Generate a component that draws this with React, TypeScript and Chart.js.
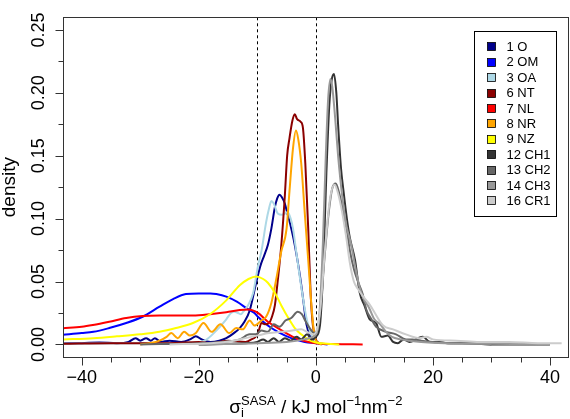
import React, { useEffect, useRef } from 'react';
import { Chart, registerables } from 'chart.js';

Chart.register(...registerables);

const FONT = '"Liberation Sans", Arial, Helvetica, sans-serif';

// ---- axes ----
const xMin = -43.2;
const xMax = 43.2;
const yMin = -0.01;
const yMax = 0.26;
const xTickValues = [-40, -35, -30, -25, -20, -15, -10, -5, 0, 5, 10, 15, 20, 25, 30, 35, 40];
const xMajorTicks = [-40, -20, 0, 20, 40];
const yTickValues = [0, 0.025, 0.05, 0.075, 0.1, 0.125, 0.15, 0.175, 0.2, 0.225, 0.25];
const yMajorTicks = [0, 0.05, 0.1, 0.15, 0.2, 0.25];
const refLines = [-10, 0];
const yTitle = 'density';

// ---- series (x, density) ----
const s1O: [number, number][] = [
  [-43.2, 0.0008], [-40, 0.001], [-37, 0.0015], [-34, 0.001], [-32, 0.002], [-30.8, 0.005], [-30, 0.003],
  [-29, 0.005], [-28.2, 0.003], [-27.5, 0.005], [-26.5, 0.002], [-25, 0.003], [-23, 0.002], [-21.5, 0.004],
  [-20.5, 0.0065], [-19.5, 0.004], [-18, 0.002], [-16.5, 0.003], [-15.3, 0.005], [-14, 0.009], [-13, 0.013],
  [-12.2, 0.018], [-11.3, 0.027], [-10.2, 0.049], [-9.5, 0.062], [-8.8, 0.071], [-8.2, 0.079], [-7.6, 0.092],
  [-7, 0.109], [-6.6, 0.116], [-6.2, 0.119], [-5.8, 0.117], [-5.3, 0.112], [-4.8, 0.103], [-4.4, 0.096],
  [-3.6, 0.079], [-2.7, 0.054], [-2.2, 0.037], [-1.6, 0.016], [-1, 0.007], [-0.5, 0.004], [0, 0.002],
  [0.5, 0.001], [1, 0],
];
const s2OM: [number, number][] = [
  [-43.2, 0.0077], [-40, 0.009], [-38, 0.010], [-35.3, 0.013], [-32.4, 0.017], [-29.6, 0.022], [-26.7, 0.030],
  [-24.4, 0.036], [-22.2, 0.040], [-20, 0.0405], [-18, 0.0405], [-17, 0.040], [-15.3, 0.038], [-13.5, 0.034],
  [-11.6, 0.028], [-10.5, 0.025], [-9.9, 0.022], [-8.2, 0.015], [-6.5, 0.010], [-4.2, 0.005], [-1.9, 0.002],
  [0, 0.001], [2, 0],
];
const s3OA: [number, number][] = [
  [-43.2, 0.0005], [-30, 0.001], [-22, 0.001], [-19, 0.003], [-17, 0.011], [-15.3, 0.020], [-14.5, 0.025],
  [-13.9, 0.026], [-13.3, 0.025], [-12.8, 0.024], [-12.4, 0.026], [-11.6, 0.031], [-10.7, 0.041], [-9.9, 0.062],
  [-9.3, 0.074], [-8.5, 0.097], [-8, 0.108], [-7.6, 0.114], [-7.2, 0.112], [-6.5, 0.104], [-5.8, 0.103],
  [-4.8, 0.105], [-4.3, 0.1], [-3.9, 0.092], [-3.3, 0.072], [-2.5, 0.046], [-1.6, 0.021], [-0.5, 0.005],
  [0.5, 0.001], [1, 0],
];
const s6NT: [number, number][] = [
  [-43.2, 0.0005], [-35, 0.001], [-25, 0.001], [-20, 0.002], [-18, 0.001], [-15, 0.003], [-12, 0.002],
  [-11, 0.004], [-10.3, 0.006], [-9.8, 0.010], [-9.3, 0.017], [-8.7, 0.016], [-8, 0.017], [-7.5, 0.022],
  [-7, 0.031], [-6.5, 0.051], [-5.9, 0.079], [-5.3, 0.118], [-4.9, 0.150], [-4.5, 0.164], [-4, 0.178],
  [-3.6, 0.183], [-3.2, 0.179], [-2.6, 0.177], [-2.2, 0.172], [-1.8, 0.144], [-1.3, 0.092], [-0.9, 0.041],
  [-0.5, 0.015], [0, 0.004], [0.5, 0.001], [1, 0],
];
const s7NL: [number, number][] = [
  [-43.2, 0.0128], [-40, 0.014], [-38.1, 0.0154], [-35.3, 0.018], [-32.4, 0.021], [-29.6, 0.0226],
  [-26.7, 0.023], [-21, 0.023], [-18.1, 0.024], [-15.3, 0.0256], [-13, 0.0274], [-11.5, 0.0277],
  [-9.9, 0.025], [-8.2, 0.018], [-6.5, 0.013], [-4.7, 0.008], [-3, 0.004], [-1.3, 0.002], [0, 0.001],
  [3, 0.0003], [8, 0],
];
const s8NR: [number, number][] = [
  [-30, 0], [-28.4, 0.001], [-26.7, 0.003], [-25.5, 0.006], [-24.7, 0.009], [-23.6, 0.005], [-22.5, 0.010],
  [-21.5, 0.007], [-20.5, 0.009], [-19.2, 0.017], [-17.8, 0.010], [-16.3, 0.016], [-14.8, 0.009],
  [-13.6, 0.013], [-12.5, 0.012], [-11.3, 0.019], [-10.5, 0.015], [-9.3, 0.019], [-8.5, 0.022], [-7.6, 0.033],
  [-6.8, 0.051], [-5.9, 0.074], [-5, 0.092], [-4.5, 0.122], [-3.9, 0.156], [-3.4, 0.170], [-3, 0.163],
  [-2.5, 0.144], [-1.9, 0.105], [-1.3, 0.067], [-0.7, 0.028], [-0.2, 0.006], [0.5, 0.001], [1, 0],
];
const s9NZ: [number, number][] = [
  [-43.2, 0.004], [-38, 0.005], [-34, 0.0064], [-30, 0.008], [-26.7, 0.010], [-23.9, 0.013], [-21, 0.017],
  [-18.1, 0.024], [-15.3, 0.035], [-13, 0.047], [-11.5, 0.052], [-10.2, 0.054], [-9, 0.052], [-8.2, 0.049],
  [-7, 0.041], [-5.9, 0.031], [-4.7, 0.021], [-3.6, 0.013], [-2.5, 0.008], [-1.3, 0.004], [0, 0.0015],
  [2, 0.0005], [4, 0],
];
const s12CH1: [number, number][] = [
  [-20, 0], [-12, 0.001], [-10, 0.002], [-9, 0.004], [-8.2, 0.002], [-7.2, 0.005], [-6.3, 0.002], [-5.3, 0.005],
  [-4.3, 0.003], [-3.3, 0.006], [-2.5, 0.004], [-1.5, 0.008], [-0.7, 0.004], [0, 0.006], [0.7, 0.015],
  [1.25, 0.059], [1.8, 0.136], [2.3, 0.19], [2.7, 0.21], [3.1, 0.215], [3.5, 0.2], [3.8, 0.175], [4.3, 0.14],
  [4.7, 0.123], [5.3, 0.1], [5.8, 0.085], [6.7, 0.067], [7.5, 0.041], [8.3, 0.031], [9.2, 0.020],
  [10.3, 0.017], [11.2, 0.006], [12.3, 0.007], [13.2, 0.002], [14, 0.001], [15, 0.004], [16, 0.002],
  [17.5, 0.005], [18.3, 0.006], [19.5, 0.002], [21, 0.002], [22.5, 0.001], [25, 0.001], [30, 0], [40, 0],
];
const s13CH2: [number, number][] = [
  [-30, 0], [-20, 0.001], [-16, 0.002], [-13, 0.004], [-11.3, 0.008], [-10.3, 0.008], [-9.3, 0.011],
  [-8.2, 0.010], [-7.2, 0.016], [-6.2, 0.014], [-5.2, 0.019], [-4.2, 0.021], [-3.1, 0.026], [-2.4, 0.024],
  [-1.7, 0.018], [-0.9, 0.012], [-0.3, 0.009], [0.3, 0.012], [0.8, 0.028], [1.5, 0.07], [2.2, 0.105],
  [2.8, 0.124], [3.4, 0.128], [4, 0.12], [4.7, 0.105], [5.3, 0.09], [5.8, 0.075], [6.5, 0.06], [7.2, 0.05],
  [8, 0.04], [8.6, 0.028], [9.5, 0.02], [10.3, 0.014], [12, 0.010], [13.7, 0.008], [15.4, 0.004],
  [16.5, 0.004], [18, 0.003], [20, 0.002], [23, 0.001], [26, 0.001], [30, 0],
];
const s14CH3: [number, number][] = [
  [-20, 0], [-10, 0.001], [-5, 0.002], [-2, 0.004], [-0.5, 0.006], [0.2, 0.01], [0.7, 0.03], [1.2, 0.08],
  [1.7, 0.15], [2.1, 0.195], [2.5, 0.211], [2.8, 0.205], [3.3, 0.18], [3.8, 0.15], [4.5, 0.118], [5.2, 0.095],
  [6, 0.08], [6.8, 0.06], [7.5, 0.045], [8.3, 0.035], [9, 0.03], [10, 0.02], [11, 0.016], [12, 0.01],
  [13, 0.006], [14.5, 0.004], [16, 0.003], [18, 0.002], [22, 0.001], [30, 0.0005], [40, 0],
];
const s16CR1: [number, number][] = [
  [-25, 0], [-18, 0.001], [-14, 0.003], [-12, 0.005], [-10, 0.007], [-8, 0.009], [-6, 0.010], [-4, 0.011],
  [-2.5, 0.012], [-1.5, 0.01], [-0.5, 0.008], [0.2, 0.012], [0.8, 0.03], [1.5, 0.072], [2.4, 0.115],
  [3.2, 0.127], [3.8, 0.12], [4.5, 0.105], [5.2, 0.085], [5.8, 0.065], [6.5, 0.05], [7.2, 0.044],
  [8.1, 0.038], [9, 0.033], [9.7, 0.028], [11.5, 0.015], [13.2, 0.012], [15.4, 0.008], [17.7, 0.005],
  [18.9, 0.006], [20, 0.004], [24, 0.003], [28, 0.002], [33, 0.002], [38, 0.001], [42, 0.001],
];

const seriesNames = ['1 O', '2 OM', '3 OA', '6 NT', '7 NL', '8 NR', '9 NZ', '12 CH1', '13 CH2', '14 CH3', '16 CR1'];
const seriesColors = ['#00008B', '#0000FF', '#ADD8E6', '#8B0000', '#FF0000', '#FFA500', '#FFFF00', '#333333', '#666666', '#999999', '#CCCCCC'];
const seriesData = [s1O, s2OM, s3OA, s6NT, s7NL, s8NR, s9NZ, s12CH1, s13CH2, s14CH3, s16CR1];

const minus = (v: number) => (v < 0 ? '\u2212' + Math.abs(v) : String(v));

const decorPlugin = {
  id: 'decor',
  beforeDatasetsDraw(chart: any) {
    const { ctx, chartArea: a, scales } = chart;
    ctx.save();
    ctx.setLineDash([3, 3]);
    ctx.strokeStyle = '#000';
    ctx.lineWidth = 1;
    for (const v of refLines) {
      const px = Math.round(scales.x.getPixelForValue(v)) + 0.5;
      ctx.beginPath();
      ctx.moveTo(px, a.top);
      ctx.lineTo(px, a.bottom);
      ctx.stroke();
    }
    ctx.restore();
  },
  afterDraw(chart: any) {
    const { ctx, chartArea: a, scales } = chart;
    ctx.save();
    // frame
    ctx.strokeStyle = '#333';
    ctx.lineWidth = 1;
    const L = Math.round(a.left) + 0.5, R = Math.round(a.right) - 0.5;
    const T = Math.round(a.top) + 0.5, B = Math.round(a.bottom) + 0.5;
    ctx.strokeRect(L, T, R - L, B - T);
    // tick marks
    ctx.beginPath();
    for (const t of scales.x.ticks) {
      const px = Math.round(scales.x.getPixelForValue(t.value)) + 0.5;
      const len = xMajorTicks.includes(t.value) ? 8 : 5;
      ctx.moveTo(px, B);
      ctx.lineTo(px, B + len);
    }
    for (const t of scales.y.ticks) {
      const py = Math.round(scales.y.getPixelForValue(t.value)) + 0.5;
      const major = yMajorTicks.some((m) => Math.abs(m - t.value) < 1e-9);
      const len = major ? 8 : 5;
      ctx.moveTo(L, py);
      ctx.lineTo(L - len, py);
    }
    ctx.stroke();

    // legend
    const lw = 82, lh = 185;
    const lx = Math.round(a.right - 13 - lw) + 0.5;
    const ly = Math.round(a.top + 13.5) + 0.5;
    ctx.fillStyle = '#fff';
    ctx.fillRect(lx, ly, lw, lh);
    ctx.strokeStyle = '#000';
    ctx.strokeRect(lx, ly, lw, lh);
    ctx.font = `13px ${FONT}`;
    ctx.textBaseline = 'middle';
    ctx.textAlign = 'left';
    chart.data.datasets.forEach((ds: any, i: number) => {
      const cy = ly + 15.4 * (i + 1);
      const sx = Math.round(lx + 12) + 0.5;
      const sy = Math.round(cy - 4.5) + 0.5;
      ctx.fillStyle = ds.borderColor;
      ctx.fillRect(sx, sy, 8, 8);
      ctx.strokeStyle = '#000';
      ctx.lineWidth = 0.8;
      ctx.strokeRect(sx, sy, 8, 8);
      ctx.fillStyle = '#000';
      ctx.fillText(ds.label, lx + 32, cy + 0.5);
    });

    // x axis title with sub/superscripts
    const big = `19px ${FONT}`;
    const small = `13px ${FONT}`;
    const base = 413;
    type Piece = { t: string; f: string; dy: number };
    const parts: Piece[][] = [
      [{ t: '\u03C3', f: big, dy: 0 }],
      [{ t: 'i', f: small, dy: 4 }, { t: 'SASA', f: small, dy: -8 }],
      [{ t: ' / kJ mol', f: big, dy: 0 }],
      [{ t: '\u22121', f: small, dy: -8 }],
      [{ t: 'nm', f: big, dy: 0 }],
      [{ t: '\u22122', f: small, dy: -8 }],
    ];
    const widths = parts.map((grp) =>
      Math.max(...grp.map((p) => {
        ctx.font = p.f;
        return ctx.measureText(p.t).width;
      }))
    );
    const total = widths.reduce((s, w) => s + w, 0);
    let cx = (a.left + a.right) / 2 - total / 2;
    ctx.fillStyle = '#000';
    ctx.textBaseline = 'alphabetic';
    parts.forEach((grp, gi) => {
      grp.forEach((p) => {
        ctx.font = p.f;
        ctx.fillText(p.t, cx, base + p.dy);
      });
      cx += widths[gi];
    });
    ctx.restore();
  },
};

export default function App() {
  const ref = useRef<HTMLCanvasElement | null>(null);
  useEffect(() => {
    if (!ref.current) return;
    const datasets = seriesData.map((s, i) => ({
      label: seriesNames[i],
      data: s.map(([x, y]) => ({ x, y })),
      borderColor: seriesColors[i],
      backgroundColor: seriesColors[i],
      borderWidth: 2,
      pointRadius: 0,
      fill: false,
      cubicInterpolationMode: 'monotone' as const,
      order: seriesData.length - i,
    }));
    const chart = new Chart(ref.current, {
      type: 'line',
      data: { datasets },
      options: {
        animation: false,
        responsive: true,
        maintainAspectRatio: false,
        devicePixelRatio: 1,
        layout: { padding: { top: 5, right: 1, left: 0, bottom: 0 } },
        plugins: { legend: { display: false }, tooltip: { enabled: false } },
        scales: {
          x: {
            type: 'linear',
            min: xMin,
            max: xMax,
            grid: { display: false, drawTicks: false },
            border: { display: false },
            afterBuildTicks: (scale: any) => {
              scale.ticks = xTickValues.map((v) => ({ value: v }));
            },
            afterFit: (scale: any) => {
              scale.height = 62;
            },
            ticks: {
              autoSkip: false,
              maxRotation: 0,
              padding: 10,
              color: '#000',
              font: { family: FONT, size: 18 },
              callback: (v: any) => (xMajorTicks.includes(Number(v)) ? minus(Number(v)) : ''),
            },
          },
          y: {
            type: 'linear',
            min: yMin,
            max: yMax,
            grid: { display: false, drawTicks: false },
            border: { display: false },
            afterBuildTicks: (scale: any) => {
              scale.ticks = yTickValues.map((v) => ({ value: v }));
            },
            afterFit: (scale: any) => {
              scale.width = 63;
            },
            title: {
              display: true,
              text: yTitle,
              color: '#000',
              font: { family: FONT, size: 19, lineHeight: 1 },
              padding: { top: 0, bottom: 0 },
            },
            ticks: {
              autoSkip: false,
              minRotation: 90,
              maxRotation: 90,
              crossAlign: 'center',
              padding: 6.5,
              color: '#000',
              font: { family: FONT, size: 18 },
              callback: (v: any) => {
                const n = Number(v);
                return yMajorTicks.some((m) => Math.abs(m - n) < 1e-9) ? n.toFixed(2) : '';
              },
            },
          },
        },
      },
      plugins: [decorPlugin],
    });
    return () => chart.destroy();
  }, []);
  return (
    <div style={{ position: 'fixed', left: 0, top: 0, width: 570, height: 419, background: '#fff' }}>
      <canvas ref={ref} />
    </div>
  );
}
